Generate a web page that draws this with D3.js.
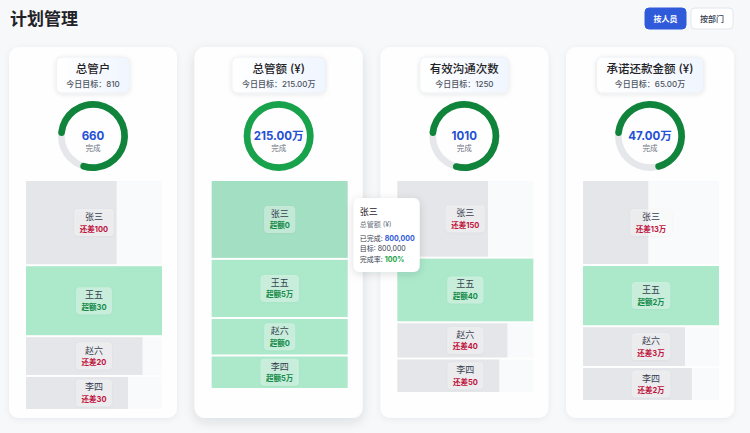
<!DOCTYPE html>
<html><head><meta charset="utf-8">
<script src="https://cdn.jsdelivr.net/npm/d3@7"></script>
<style>
html,body{margin:0;padding:0;background:#f7f8fa;}
svg{display:block;font-family:Inter,"Noto Sans CJK SC",sans-serif;}
</style></head>
<body>
<svg id="c" width="750" height="433"></svg>
<script>
// ---- data ----
const pageTitle = "计划管理";
const buttons = ["按人员", "按部门"];
const metrics = ["总管户", "总管额 (¥)", "有效沟通次数", "承诺还款金额 (¥)"];
const isMoney = [false, true, false, true];
const summaryDone = [660, 215, 1010, 47];
const summaryTarget = [810, 215, 1250, 65];
const people = ["张三", "王五", "赵六", "李四"];
const targets = [[300, 250, 140, 120], [80, 60, 38, 34], [450, 375, 210, 200], [25, 18, 12, 10]];
const done = [[200, 280, 120, 90], [80, 65, 38, 39], [300, 415, 170, 150], [12, 20, 9, 8]];
const hover = {card: 1, person: 0};

// ---- layout ----
const svg = d3.select("#c");
const defs = svg.append("defs");
function shadow(id, dy, blur, op) {
  const f = defs.append("filter").attr("id", id).attr("x", "-30%").attr("y", "-30%").attr("width", "160%").attr("height", "160%");
  f.append("feDropShadow").attr("dx", 0).attr("dy", dy).attr("stdDeviation", blur).attr("flood-color", "#1f2937").attr("flood-opacity", op);
}
shadow("sCard", 1.5, 3, 0.06);
shadow("sCardH", 4, 6, 0.12);
shadow("sBox", 1, 2, 0.10);
shadow("sLab", 0.5, 1.2, 0.12);
shadow("sTip", 2, 4, 0.14);
const hg = defs.append("linearGradient").attr("id", "hdrG").attr("x1", 0).attr("x2", 1);
hg.append("stop").attr("offset", "0%").attr("stop-color", "#ffffff");
hg.append("stop").attr("offset", "100%").attr("stop-color", "#f0f6ff");

svg.append("text").attr("x", 10).attr("y", 25).attr("font-size", 17).attr("font-weight", 700)
  .attr("fill", "#1f2328").text(pageTitle);

// buttons
const btnX = [645, 691], btnW = [41, 42];
buttons.forEach((b, i) => {
  svg.append("rect").attr("x", btnX[i]).attr("y", 8).attr("width", btnW[i]).attr("height", 21).attr("rx", 4)
    .attr("fill", i === 0 ? "#2f5bdb" : "#ffffff").attr("stroke", i === 0 ? "#2f5bdb" : "#e3e6eb");
  svg.append("text").attr("x", btnX[i] + btnW[i] / 2).attr("y", 21.5).attr("text-anchor", "middle")
    .attr("font-size", 8).attr("font-weight", i === 0 ? 700 : 500)
    .attr("fill", i === 0 ? "#ffffff" : "#374151").text(b);
});

const cardW = 168, cardY = 47, cardH = 371, step = 185.67;
const areaHeights = [228, 207, 211, 219];
const fmtMoney = v => v.toFixed(2) + "万";
const fmtVal = (v, m) => m ? fmtMoney(v) : String(v);

metrics.forEach((m, i) => {
  const cx = 9 + i * step;
  const g = svg.append("g");
  const hovered = hover.card === i;
  g.append("rect").attr("x", cx).attr("y", cardY).attr("width", cardW).attr("height", cardH).attr("rx", 10)
    .attr("fill", "#fefefe").attr("filter", hovered ? "url(#sCardH)" : "url(#sCard)");
  const mid = cx + cardW / 2;

  // header box
  const hb = g.append("g");
  const hr = hb.append("rect").attr("y", 57).attr("height", 36).attr("rx", 6).attr("fill", "url(#hdrG)")
    .attr("stroke", "#eef0f3").attr("filter", "url(#sBox)");
  const t1 = hb.append("text").attr("x", mid).attr("y", 73).attr("text-anchor", "middle")
    .attr("font-size", 11.5).attr("font-weight", 500).attr("fill", "#1f2328").text(m);
  const t2 = hb.append("text").attr("x", mid).attr("y", 86.5).attr("text-anchor", "middle")
    .attr("font-size", 8).attr("font-weight", 500).attr("fill", "#4b5260")
    .text("今日目标：" + fmtVal(summaryTarget[i], isMoney[i]));
  const tw = Math.max(t1.node().getComputedTextLength(), t2.node().getComputedTextLength()) + 20;
  hr.attr("x", mid - tw / 2).attr("width", tw);

  // gauge
  const gcY = 136, rO = 35, rI = 28.3;
  const pct = Math.min(summaryDone[i] / summaryTarget[i], 1);
  const arcBg = d3.arc().innerRadius(rI).outerRadius(rO).startAngle(0).endAngle(2 * Math.PI);
  const arcFg = d3.arc().innerRadius(rI).outerRadius(rO).cornerRadius(3.3);
  const gg = g.append("g").attr("transform", `translate(${mid},${gcY})`);
  gg.append("path").attr("d", arcBg()).attr("fill", "#e6e7ea");
  gg.append("path").attr("d", arcFg({startAngle: -Math.PI / 2, endAngle: -Math.PI / 2 + 2 * Math.PI * pct}))
    .attr("fill", pct >= 1 ? "#17a24b" : "#0f843a");
  gg.append("text").attr("y", 4).attr("text-anchor", "middle").attr("font-size", 11.5).attr("font-weight", 700)
    .attr("fill", "#2450d6").text(fmtVal(summaryDone[i], isMoney[i]));
  gg.append("text").attr("y", 11.5).attr("dy", 3.5).attr("text-anchor", "middle").attr("font-size", 7.5)
    .attr("fill", "#6b7280").text("完成");

  // treemap rows
  const ax = cx + 17, ay = 181, aw = 136, ah = areaHeights[i];
  const root = d3.hierarchy({children: people.map((p, k) => ({name: p, target: targets[i][k], done: done[i][k], k}))})
    .sum(d => d.target || 0);
  d3.treemap().tile(d3.treemapSlice).size([aw, ah]).paddingInner(2).round(false)(root);
  const x = d3.scaleLinear().domain([0, 1]).range([0, aw]).clamp(true);
  root.leaves().forEach(n => {
    const d = n.data;
    const rg = g.append("g").attr("transform", `translate(${ax + n.x0},${ay + n.y0})`);
    const w = n.x1 - n.x0, h = n.y1 - n.y0;
    const met = d.done >= d.target;
    const isHov = hovered && d.k === hover.person;
    rg.append("rect").attr("width", w).attr("height", h).attr("fill", "#f9fafb");
    rg.append("rect").attr("width", x(d.done / d.target)).attr("height", h)
      .attr("fill", met ? (isHov ? "#a3dfc3" : "#ace9cb") : "#e5e6e9");
    const diff = Math.abs(d.done - d.target);
    const status = (met ? "超额" : "还差") + (isMoney[i] && diff !== 0 ? diff + "万" : diff);
    const c = h / 2;
    const lab = rg.append("g").attr("transform", `translate(${w / 2},${c})`);
    const lr = lab.append("rect").attr("y", -13.5).attr("height", 27).attr("rx", 4)
      .attr("fill", "#ffffff").attr("fill-opacity", 0.35).attr("filter", "url(#sLab)");
    const n1 = lab.append("text").attr("y", -2.5).attr("text-anchor", "middle").attr("font-size", 9)
      .attr("fill", "#374151").text(d.name);
    const n2 = lab.append("text").attr("y", 9).attr("text-anchor", "middle").attr("font-size", 7.5)
      .attr("font-weight", 700).attr("fill", met ? "#138a48" : "#c0123c").text(status);
    const lw = Math.max(n1.node().getComputedTextLength(), n2.node().getComputedTextLength()) + 11;
    lr.attr("x", -lw / 2).attr("width", lw);

    if (isHov) {
      const tx = ax + aw + 6, ty = 198;
      const tip = svg.append("g").attr("class", "tip").attr("transform", `translate(${tx},${ty})`);
      tip.append("rect").attr("width", 66).attr("height", 74).attr("rx", 6).attr("fill", "#ffffff")
        .attr("filter", "url(#sTip)");
      tip.append("text").attr("x", 6).attr("y", 16.5).attr("font-size", 9).attr("fill", "#1f2328").text(d.name);
      tip.append("text").attr("x", 6).attr("y", 28.5).attr("font-size", 7).attr("fill", "#6b7280").text(m);
      const unit = isMoney[i] ? 10000 : 1;
      const fmt = d3.format(",");
      const lines = [
        ["已完成: ", fmt(d.done * unit), "#2e5ad8", 700],
        ["目标: ", fmt(d.target * unit), "#374151", 400],
        ["完成率: ", d3.format(".0%")(d.done / d.target), "#16a34a", 700]
      ];
      lines.forEach((l, j) => {
        const t = tip.append("text").attr("x", 6).attr("y", 42.5 + j * 10.8).attr("font-size", 7).attr("fill", "#374151");
        t.append("tspan").text(l[0]);
        t.append("tspan").attr("fill", l[2]).attr("font-weight", l[3]).text(l[1]);
      });
    }
  });
});
// bring tooltip to front
svg.selectAll("g.tip").raise();
</script>
</body></html>
